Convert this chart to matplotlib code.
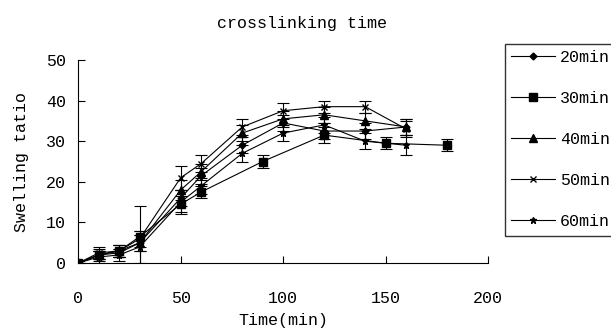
import matplotlib
matplotlib.use("Agg")
import matplotlib.pyplot as plt

plt.rcParams['font.family'] = ['Liberation Mono', 'DejaVu Sans Mono']

# sampling times (min)
t_main = [0, 10, 20, 30, 50, 60, 80, 100, 120, 140, 160]
t_30 = [0, 10, 20, 30, 50, 60, 90, 120, 150, 180]

# swelling ratio for each crosslinking time
sr_20 = [0, 2, 2.5, 5, 16, 21.5, 29, 34.5, 32.5, 32.5, 33.5]
sr_30 = [0, 2, 3, 6.5, 14.5, 17.5, 25, 31.5, 29.5, 29]
sr_40 = [0, 2, 3, 5, 18, 22.5, 32, 35.5, 36.5, 35, 33.5]
sr_50 = [0, 2.5, 3, 6, 21, 24.5, 33.5, 37.5, 38.5, 38.5, 33]
sr_60 = [0, 1.5, 2, 4, 15, 19, 27, 32, 34, 30, 29]

# error bars
err_20 = [0.5, 1, 1, 2, 2, 2, 2, 2, 2, 2, 2]
err_30 = [0.5, 1.5, 1.5, 7.5, 2, 1.5, 1.5, 2, 1.5, 1.5]
err_40 = [0.5, 1, 1.5, 2, 2.5, 2, 2, 2, 2, 2, 2]
err_50 = [0.5, 1.5, 1.5, 2, 3, 2, 2, 2, 1.5, 1.5, 2]
err_60 = [0.5, 1.5, 1.5, 4, 3, 2, 2, 2, 2, 2, 2.5]

labels = ["20min", "30min", "40min", "50min", "60min"]

fig = plt.figure(figsize=(6.11, 3.33), dpi=100)
ax = fig.add_axes([0.128, 0.21, 0.671, 0.61])

series = [
    (t_main, sr_20, err_20, 'D', 3.5),
    (t_30, sr_30, err_30, 's', 5.5),
    (t_main, sr_40, err_40, '^', 5.5),
    (t_main, sr_50, err_50, 'x', 4.5),
    (t_main, sr_60, err_60, '*', 4.5),
]
for (x, y, e, m, ms), lab in zip(series, labels):
    ax.errorbar(x, y, yerr=e, color='black', marker=m, markersize=ms,
                linewidth=0.8, elinewidth=0.8, capsize=4, capthick=0.8,
                label=lab)

ax.set_xlim(0, 200)
ax.set_ylim(0, 50)
ax.set_xticks([0, 50, 100, 150, 200])
ax.set_yticks([0, 10, 20, 30, 40, 50])
ax.spines['top'].set_visible(False)
ax.spines['right'].set_visible(False)
ax.tick_params(direction='in', length=5, labelsize=12, pad=20)
ax.tick_params(axis='y', pad=9)
ax.set_xlabel("Time(min)", fontsize=12, labelpad=5)
ax.set_ylabel("Swelling tatio", fontsize=12, labelpad=12)
fig.text(0.495, 0.93, "crosslinking time", ha='center', va='center', fontsize=12)

handles, labs = ax.get_legend_handles_labels()
handles = [h[0] for h in handles]
leg = fig.legend(handles, labs, loc='upper left', bbox_to_anchor=(0.8265, 0.868),
                 borderaxespad=0, frameon=True, fancybox=False, edgecolor='black',
                 fontsize=12, labelspacing=1.56, handlelength=2.6,
                 handletextpad=0.3, borderpad=0.38)
leg.get_frame().set_linewidth(1.0)

fig.savefig("out.png", dpi=100)
